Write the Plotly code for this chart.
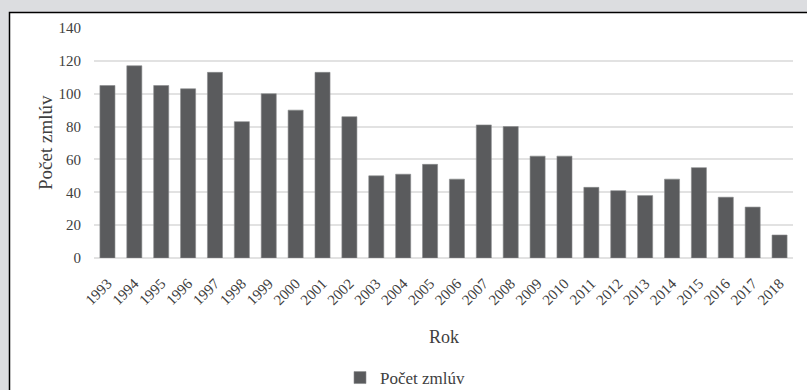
import plotly.graph_objects as go

years = [str(y) for y in range(1993, 2019)]
counts = [105, 117, 105, 103, 113, 83, 100, 90, 113, 86, 50, 51, 57, 48,
          81, 80, 62, 62, 43, 41, 38, 48, 55, 37, 31, 14]
series_name = "Počet zmlúv"
x_title = "Rok"
y_title = "Počet zmlúv"
y_ticks = [0, 20, 40, 60, 80, 100, 120, 140]

W, H = 807, 390
L, R, T, B = 94, 14, 28, 132
pw, ph = W - L - R, H - T - B

def px2x(p):
    return (p - L) / pw

def py2y(p):
    return (H - B - p) / ph

font_family = "Liberation Serif, Times New Roman, serif"

fig = go.Figure()
fig.add_trace(go.Bar(
    x=years, y=counts, name=series_name,
    marker=dict(color="#5a5b5d", line=dict(color="#8a8b8d", width=0.6)),
    showlegend=True,
))

fig.update_layout(
    width=W, height=H,
    margin=dict(l=L, r=R, t=T, b=B, autoexpand=False),
    paper_bgcolor="#dcdde0",
    plot_bgcolor="white",
    bargap=0.44,
    font=dict(family=font_family, color="#404040", size=15),
    showlegend=True,
    legend=dict(orientation="h", x=px2x(340), xanchor="left",
                y=py2y(378), yanchor="middle", itemwidth=30,
                font=dict(size=17, color="#404040"),
                bgcolor="rgba(0,0,0,0)"),
    shapes=[dict(type="rect", xref="paper", yref="paper",
                 x0=px2x(9.5), x1=px2x(830), y0=py2y(12.5), y1=py2y(420),
                 fillcolor="white", line=dict(color="black", width=1.5),
                 layer="below")],
    annotations=[
        dict(text=x_title, xref="paper", yref="paper", x=0.5, y=py2y(337),
             xanchor="center", yanchor="middle", showarrow=False,
             font=dict(size=18, color="#404040")),
        dict(text=y_title, xref="paper", yref="paper", x=px2x(45), y=0.5,
             xanchor="center", yanchor="middle", showarrow=False, textangle=-90,
             font=dict(size=19, color="#404040")),
    ],
)
fig.update_xaxes(tickangle=-45, showgrid=False, showline=False, ticks="",
                 ticklabelstandoff=13, automargin=False,
                 tickfont=dict(size=15, color="#404040"), type="category")
fig.update_yaxes(range=[0, 140], tickvals=y_ticks, showgrid=True,
                 gridcolor="#e2e2e2", gridwidth=1.5, zeroline=True,
                 zerolinecolor="#e2e2e2", zerolinewidth=1.5, showline=False,
                 ticks="", ticklabelstandoff=12, automargin=False,
                 tickfont=dict(size=15, color="#404040"))

fig.write_html(
    "out.html",
    config={"displayModeBar": False},
    post_script="document.body.style.margin='0px';document.body.style.overflow='hidden';",
)
